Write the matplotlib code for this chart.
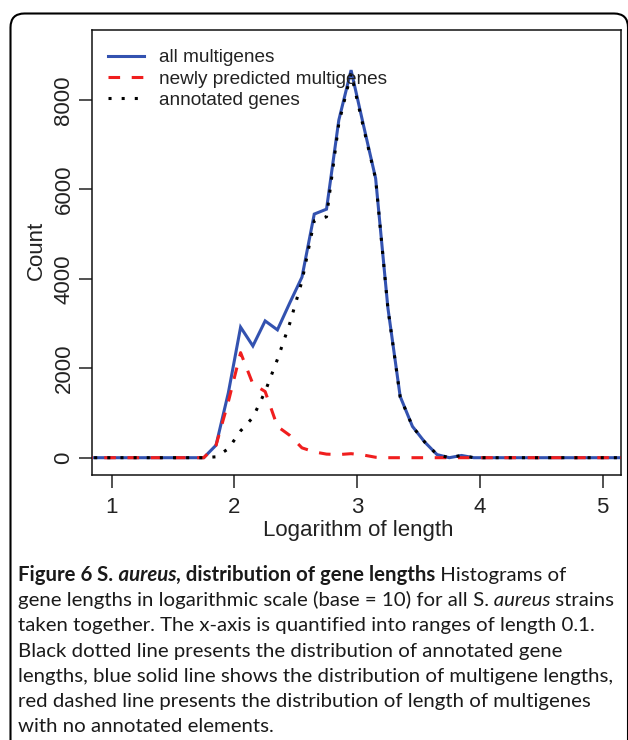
import matplotlib
matplotlib.use("Agg")
import matplotlib.pyplot as plt
from matplotlib.transforms import IdentityTransform
from matplotlib.patches import FancyBboxPatch

# ---------------- data ----------------
log_length = [0.75, 0.85, 0.95, 1.05, 1.15, 1.25, 1.35, 1.45, 1.55, 1.65,
              1.75, 1.85, 1.95, 2.05, 2.15, 2.25, 2.35, 2.45, 2.55, 2.65,
              2.75, 2.85, 2.95, 3.05, 3.15, 3.25, 3.35, 3.45, 3.55, 3.65,
              3.75, 3.85, 3.95, 4.05, 4.15, 4.25, 4.35, 4.45, 4.55, 4.65,
              4.75, 4.85, 4.95, 5.05, 5.15, 5.25]

all_multigenes = [0, 0, 0, 0, 0, 0, 0, 0, 0, 0,
                  0, 280, 1450, 2920, 2500, 3060, 2860, 3460, 4040, 5450,
                  5560, 7550, 8670, 7450, 6250, 3350, 1370, 700, 350, 70,
                  0, 50, 0, 0, 0, 0, 0, 0, 0, 0,
                  0, 0, 0, 0, 0, 0]

newly_predicted = [0, 0, 0, 0, 0, 0, 0, 0, 0, 0,
                   0, 280, 1250, 2350, 1650, 1480, 700, 500, 220, 130,
                   80, 70, 90, 60, 10, 0, 0, 0, 0, 0,
                   0, 0, 0, 0, 0, 0, 0, 0, 0, 0,
                   0, 0, 0, 0, 0, 0]

annotated_genes = [0, 0, 0, 0, 0, 0, 0, 0, 0, 0,
                   0, 20, 200, 600, 900, 1480, 2200, 3000, 3950, 5300,
                   5390, 7480, 8600, 7400, 6240, 3340, 1360, 700, 350, 70,
                   0, 50, 0, 0, 0, 0, 0, 0, 0, 0,
                   0, 0, 0, 0, 0, 0]

series_labels = ["all multigenes", "newly predicted multigenes", "annotated genes"]
x_ticks = [1, 2, 3, 4, 5]
y_ticks = [0, 2000, 4000, 6000, 8000]
x_label = "Logarithm of length"
y_label = "Count"

caption_lines = [
    [("Figure 6", "bold", "normal"), (" S.", "bold", "normal"), (" aureus", "bold", "italic"),
     (", distribution of gene lengths", "bold", "normal"), (" Histograms of", "normal", "normal")],
    [("gene lengths in logarithmic scale (base = 10) for all", "normal", "normal"),
     (" S.", "normal", "normal"), (" aureus", "normal", "italic"), (" strains", "normal", "normal")],
    [("taken together. The x-axis is quantified into ranges of length 0.1.", "normal", "normal")],
    [("Black dotted line presents the distribution of annotated gene", "normal", "normal")],
    [("lengths, blue solid line shows the distribution of multigene lengths,", "normal", "normal")],
    [("red dashed line presents the distribution of length of multigenes", "normal", "normal")],
    [("with no annotated elements.", "normal", "normal")],
]

# ---------------- figure ----------------
W, H = 628, 740
fig = plt.figure(figsize=(W / 100, H / 100), dpi=100)
fig.patch.set_facecolor("white")
AX_FONT = "Liberation Sans"

ax_l, ax_r, ax_t, ax_b = 91.7, 621.0, 30.0, 475.0
ax = fig.add_axes([ax_l / W, 1 - ax_b / H, (ax_r - ax_l) / W, (ax_b - ax_t) / H])

blue, red = "#3352b0", "#f01e1e"
lw = 2.2
l1, = ax.plot(log_length, all_multigenes, color=blue, lw=lw, solid_joinstyle="miter",
              label=series_labels[0], zorder=2)
l2, = ax.plot(log_length, newly_predicted, color=red, lw=lw, linestyle=(0, (3.8, 3.8)),
              dash_capstyle="butt", label=series_labels[1], zorder=3)
l3, = ax.plot(log_length, annotated_genes, color="black", lw=lw, linestyle=(0, (1.0, 3.3)),
              dash_capstyle="butt", label=series_labels[2], zorder=4)

ax.set_xlim(0.837, 5.149)
ax.set_ylim(-387, 9568)
ax.set_xticks(x_ticks)
ax.set_xticklabels([str(v) for v in x_ticks], fontfamily=AX_FONT, fontsize=16)
ax.set_yticks(y_ticks)
ax.set_yticklabels([str(v) for v in y_ticks], fontfamily=AX_FONT, fontsize=16,
                   rotation=90, va="center")
ax.tick_params(axis="both", direction="out", length=9.4, width=1.1, color="#222222",
               labelcolor="#222222")
ax.tick_params(axis="x", pad=6.5)
ax.tick_params(axis="y", pad=3.0)
for sp in ax.spines.values():
    sp.set_linewidth(1.1)
    sp.set_color("#111111")

fig.text(358 / W, 1 - 536 / H, x_label, ha="center", va="baseline",
         fontfamily=AX_FONT, fontsize=16, color="#222222")
fig.text(36 / W, 1 - 250 / H, y_label, ha="center", va="center", rotation=90,
         fontfamily=AX_FONT, fontsize=16, color="#222222")

leg = fig.legend(handles=[l1, l2, l3], loc="upper left",
                 bbox_to_anchor=(108 / W, 1 - 49 / H), frameon=False,
                 prop={"family": AX_FONT, "size": 13.7}, handlelength=1.9,
                 handletextpad=0.8, labelspacing=0.21, borderpad=0, borderaxespad=0)
for t in leg.get_texts():
    t.set_color("#222222")

# ---------------- border ----------------
border = FancyBboxPatch((10.5, -30), 617.5, (H - 13.5) + 30,
                        boxstyle="round,pad=0,rounding_size=14",
                        transform=IdentityTransform(), facecolor="none",
                        edgecolor="black", lw=1.5, clip_on=False)
fig.add_artist(border)

# ---------------- caption ----------------
CAP_FONT = "Lato"
renderer = fig.canvas.get_renderer()


def line_width(segs, fs):
    total = 0.0
    for s, wgt, sty in segs:
        t = fig.text(0, 0, s, transform=IdentityTransform(), fontsize=fs,
                     fontfamily=CAP_FONT, fontweight=wgt, fontstyle=sty)
        total += t.get_window_extent(renderer=renderer).width
        t.remove()
    return total


base_fs = 14.0
target = 597.0
cap_fs = base_fs * target / line_width(caption_lines[1], base_fs)

x0 = 18.0
for i, segs in enumerate(caption_lines):
    x = x0
    y = H - (581.0 + 25.2 * i)
    for s, wgt, sty in segs:
        t = fig.text(x, y, s, transform=IdentityTransform(), fontsize=cap_fs,
                     fontfamily=CAP_FONT, fontweight=wgt, fontstyle=sty,
                     ha="left", va="baseline", color="#1a1a1a")
        x = t.get_window_extent(renderer=renderer).x1

fig.savefig("out.png", dpi=100, facecolor="white")
